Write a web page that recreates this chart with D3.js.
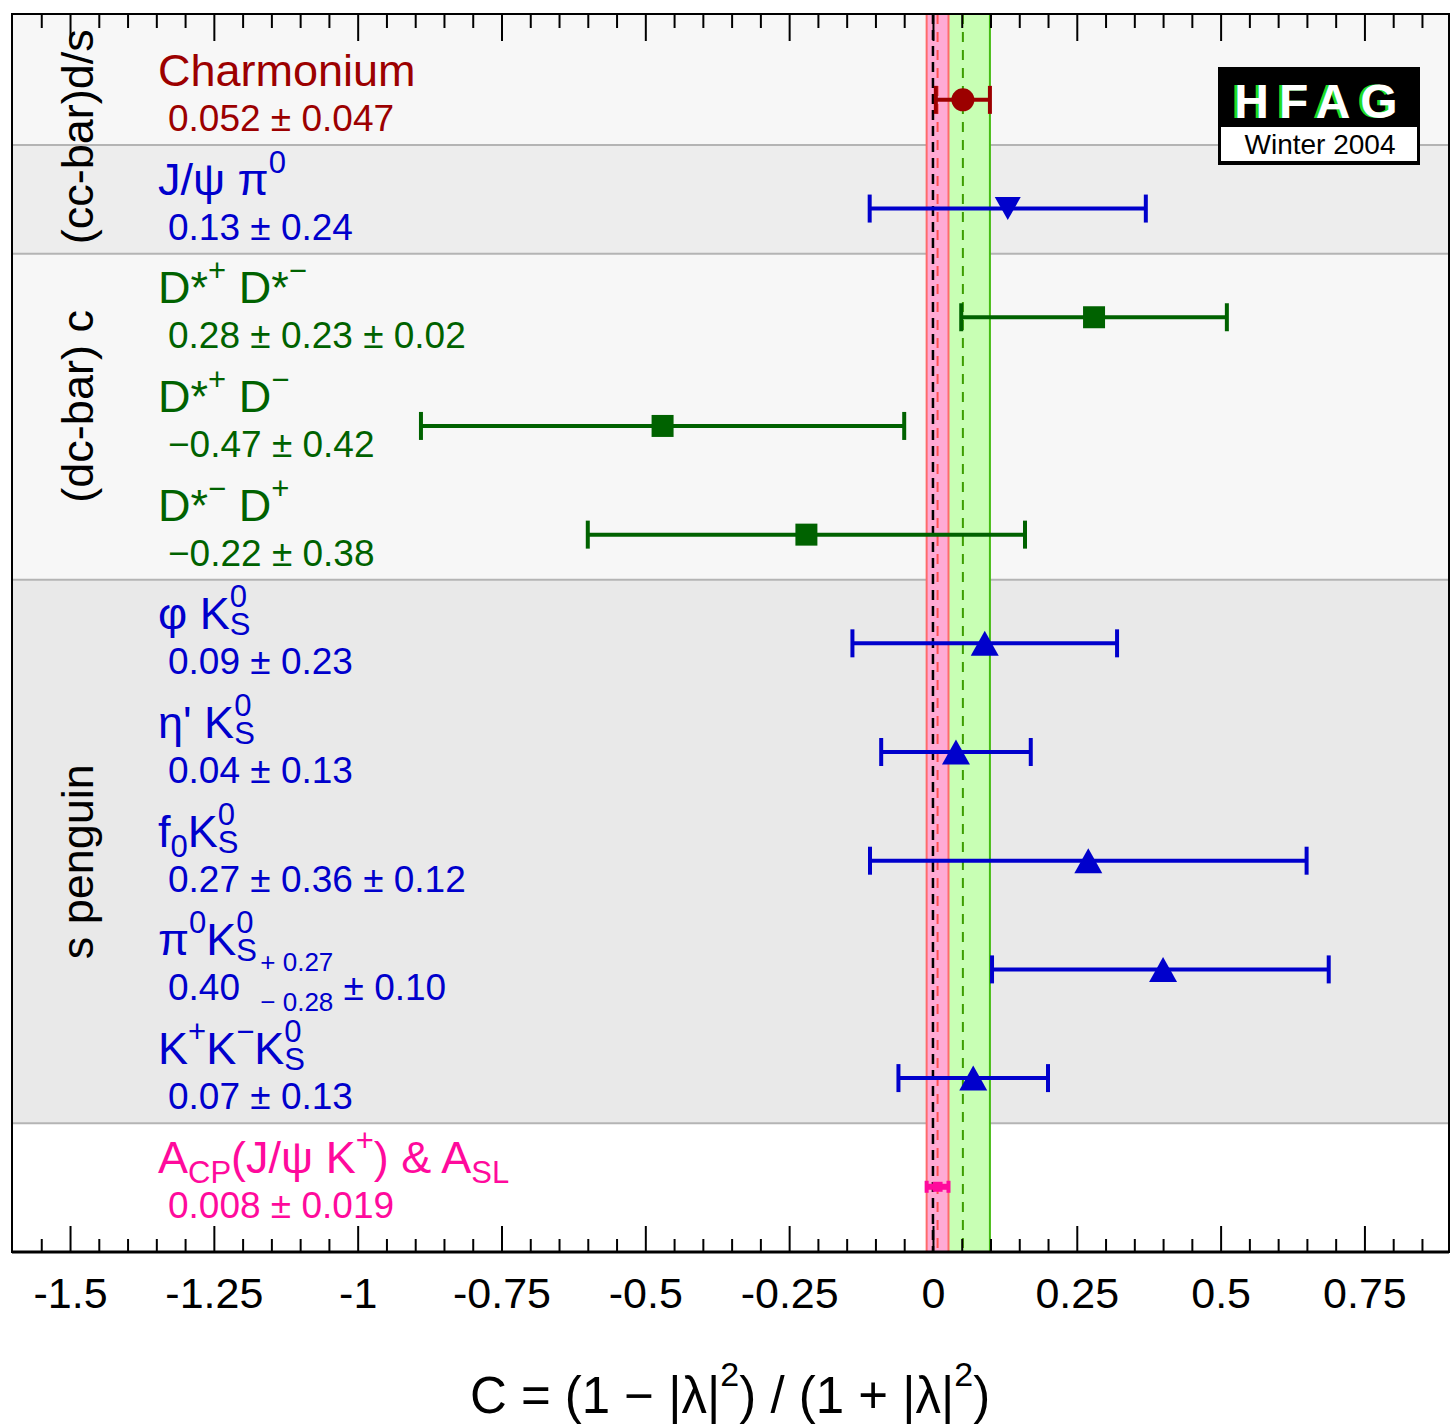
<!DOCTYPE html>
<html>
<head>
<meta charset="utf-8">
<script src="https://cdn.jsdelivr.net/npm/d3@7"></script>
<style>
  html, body { margin: 0; padding: 0; background: #ffffff; }
  svg { display: block; }
  text { font-family: "Liberation Sans", Arial, Helvetica, sans-serif; white-space: pre; }
</style>
</head>
<body>
<svg id="chart" width="1451" height="1425"></svg>
<script>
// ---- measurements of the direct CP parameter C, one row per mode ----
const modeNames = [
  "Charmonium",
  "J/ψ π^{0}",
  "D*^{+} D*^{−}",
  "D*^{+} D^{−}",
  "D*^{−} D^{+}",
  "φ K#{0}{S}",
  "η' K#{0}{S}",
  "f_{0}K#{0}{S}",
  "π^{0}K#{0}{S}",
  "K^{+}K^{−}K#{0}{S}",
  "A_{CP}(J/ψ K^{+}) & A_{SL}"
];
const modeGroup = ["charmonium", "ccd", "dcc", "dcc", "dcc",
                   "penguin", "penguin", "penguin", "penguin", "penguin", "acp"];
const cValue   = [0.052, 0.13, 0.28, -0.47, -0.22, 0.09, 0.04, 0.27, 0.40, 0.07, 0.008];
const errPlus  = [0.047, 0.24, 0.23,  0.42,  0.38, 0.23, 0.13, 0.36, 0.27, 0.13, 0.019];
const errMinus = [0.047, 0.24, 0.23,  0.42,  0.38, 0.23, 0.13, 0.36, 0.28, 0.13, 0.019];
const errSyst  = [0,     0,    0.02,  0,     0,    0,    0,    0.12, 0.10, 0,    0];
const digits   = [3, 2, 2, 2, 2, 2, 2, 2, 2, 2, 3];

// shaded row blocks (first row, last row)
const blockFirst = [0, 1, 2, 5, 10];
const blockLast  = [0, 1, 4, 9, 10];

// rotated category labels on the left
const sectionLabels = ["(cc-bar)d/s", "(dc-bar) c", "s penguin"];

// axis ticks
const majorTicks = [-1.5, -1.25, -1, -0.75, -0.5, -0.25, 0, 0.25, 0.5, 0.75];
const tickLabels = ["-1.5", "-1.25", "-1", "-0.75", "-0.5", "-0.25", "0", "0.25", "0.5", "0.75"];
const minorTicks = d3.range(-31, 18).filter(k => k % 5 !== 0).map(k => k * 0.05);

const axisTitle = "C = (1 − |λ|^{2}) / (1 + |λ|^{2})";
const logoTitle = "HFAG";
const logoSub = "Winter 2004";

// ---- styles ----
const groupColor = {
  charmonium: "#9c0000", ccd: "#0000cc", dcc: "#006200", penguin: "#0000cc", acp: "#ff0a9c"
};
const groupMarker = {
  charmonium: "circle", ccd: "triDown", dcc: "square", penguin: "triUp", acp: "tiny"
};
const blockFill = ["#f7f7f7", "#ededed", "#f7f7f7", "#e9e9e9", "#ffffff"];

// ---- layout ----
const frame = { left: 12, right: 1449, top: 14, bottom: 1252 };
const x = d3.scaleLinear().domain([-1.6, 0.897]).range([12.5, 1449]);
const y = d3.scaleLinear().domain([-0.79, 10.6]).range([frame.top, frame.bottom]);
const sepOffset = 0.585;
const sectionCentre = [0.34, 2.82, 7.01];

const svg = d3.select("#chart");
const fontFam = '"Liberation Sans", Arial, Helvetica, sans-serif';

// total error in quadrature
const totPlus  = errPlus.map((e, i) => Math.hypot(e, errSyst[i]));
const totMinus = errMinus.map((e, i) => Math.hypot(e, errSyst[i]));

// rich text with ^{sup}, _{sub} and #{sup}{sub} stacked scripts
function renderRich(text, str, o) {
  const re = /\^\{([^}]*)\}|_\{([^}]*)\}|#\{([^}]*)\}\{([^}]*)\}|([^^_#]+)/g;
  let m, cur = 0, pendingDx = 0;
  const put = (s, size, shift) => {
    const t = text.append("tspan").attr("font-size", size).attr("dy", shift - cur).text(s);
    if (pendingDx) { t.attr("dx", pendingDx); pendingDx = 0; }
    cur = shift;
    return t;
  };
  while ((m = re.exec(str))) {
    if (m[1] !== undefined) put(m[1], o.small, -o.supRaise);
    else if (m[2] !== undefined) put(m[2], o.small, o.subDrop);
    else if (m[3] !== undefined) {
      pendingDx = o.stackGap || 0;
      const a = put(m[3], o.small, -o.stackRaise);
      const wa = a.node().getComputedTextLength();
      pendingDx = -wa;
      const b = put(m[4], o.small, o.stackDrop);
      const wb = b.node().getComputedTextLength();
      if (wa > wb) pendingDx = wa - wb;
    } else put(m[5], o.size, 0);
  }
}

const fmt = (v, d) => v.toFixed(d).replace("-", "−");
function valueLabel(i) {
  const d = digits[i];
  let s = fmt(cValue[i], d);
  if (errPlus[i] === errMinus[i]) s += " ± " + fmt(errPlus[i], d);
  else s += " #{+ " + fmt(errPlus[i], d) + "}{− " + fmt(errMinus[i], d) + "}";
  if (errSyst[i] > 0) s += " ± " + fmt(errSyst[i], d);
  return s;
}

// ---- background blocks ----
blockFirst.forEach((f, k) => {
  const top = k === 0 ? frame.top : y(f - sepOffset);
  const bot = k === blockFirst.length - 1 ? frame.bottom : y(blockLast[k] + 1 - sepOffset);
  svg.append("rect").attr("x", frame.left).attr("y", top)
    .attr("width", frame.right - frame.left).attr("height", bot - top)
    .attr("fill", blockFill[k]);
});
blockFirst.slice(1).forEach(f => {
  svg.append("line").attr("x1", frame.left).attr("x2", frame.right)
    .attr("y1", y(f - sepOffset)).attr("y2", y(f - sepOffset))
    .attr("stroke", "#b4b4b4").attr("stroke-width", 2);
});

// ---- average bands ----
const iChar = modeGroup.indexOf("charmonium");
const iAcp = modeGroup.indexOf("acp");
function band(i, fill, edge, dash) {
  const x0 = x(cValue[i] - totMinus[i]), x1 = x(cValue[i] + totPlus[i]);
  svg.append("rect").attr("x", x0).attr("y", frame.top).attr("width", x1 - x0)
    .attr("height", frame.bottom - frame.top).attr("fill", fill);
  [x0, x1].forEach(xx => svg.append("line").attr("x1", xx).attr("x2", xx)
    .attr("y1", frame.top).attr("y2", frame.bottom).attr("stroke", edge).attr("stroke-width", 2));
  svg.append("line").attr("x1", x(cValue[i])).attr("x2", x(cValue[i]))
    .attr("y1", frame.top).attr("y2", frame.bottom)
    .attr("stroke", dash).attr("stroke-width", 2).attr("stroke-dasharray", "10,8");
}
band(iChar, "#c8ffb4", "#44bb11", "#3c9e00");
band(iAcp, "#ffaad4", "#ff6a6a", "#ff5050");
svg.append("line").attr("x1", x(0)).attr("x2", x(0))
  .attr("y1", frame.top).attr("y2", frame.bottom)
  .attr("stroke", "#000").attr("stroke-width", 2.5).attr("stroke-dasharray", "10,6");

// ---- error bars and markers ----
function markerPath(kind) {
  const p = d3.path();
  if (kind === "circle") { p.arc(0, 0, 11.5, 0, 2 * Math.PI); }
  else if (kind === "square") { p.rect(-11, -11, 22, 22); }
  else if (kind === "triUp") { p.moveTo(0, -12.5); p.lineTo(14, 12.5); p.lineTo(-14, 12.5); p.closePath(); }
  else if (kind === "triDown") { p.moveTo(0, 11.5); p.lineTo(13, -11.5); p.lineTo(-13, -11.5); p.closePath(); }
  else { p.rect(-5, -5, 10, 10); }
  return p.toString();
}
const rows = svg.append("g").selectAll("g").data(cValue).join("g")
  .attr("transform", (d, i) => `translate(0,${y(i)})`);
rows.each(function (d, i) {
  const g = d3.select(this);
  const col = groupColor[modeGroup[i]];
  const small = modeGroup[i] === "acp";
  const cap = small ? 6 : 14;
  const lo = x(d - totMinus[i]), hi = x(d + totPlus[i]);
  g.append("line").attr("x1", lo).attr("x2", hi).attr("y1", 0).attr("y2", 0)
    .attr("stroke", col).attr("stroke-width", small ? 6 : 4);
  [lo, hi].forEach(xx => g.append("line").attr("x1", xx).attr("x2", xx)
    .attr("y1", -cap).attr("y2", cap).attr("stroke", col).attr("stroke-width", 4));
  g.append("path").attr("d", markerPath(groupMarker[modeGroup[i]]))
    .attr("transform", `translate(${x(d)},0)`).attr("fill", col);
});

// ---- row labels ----
cValue.forEach((d, i) => {
  const col = groupColor[modeGroup[i]];
  const t1 = svg.append("text").attr("x", 158).attr("y", y(i) - 14)
    .attr("fill", col).attr("font-size", 45);
  renderRich(t1, modeNames[i], { size: 45, small: 31, supRaise: 22, subDrop: 10, stackRaise: 22, stackDrop: 6 });
  const t2 = svg.append("text").attr("x", 168).attr("y", y(i) + 31)
    .attr("fill", col).attr("font-size", 37);
  renderRich(t2, valueLabel(i), { size: 37, small: 26, supRaise: 20, subDrop: 8, stackRaise: 29, stackDrop: 11, stackGap: 10 });
});

// ---- rotated section labels ----
sectionLabels.forEach((s, k) => {
  svg.append("text").attr("transform", `translate(93,${y(sectionCentre[k])}) rotate(-90)`)
    .attr("text-anchor", "middle").attr("font-size", 45).attr("fill", "#000").text(s);
});

// ---- axes ----
function styleAxis(g) {
  g.select(".domain").remove();
  g.selectAll(".tick line").attr("stroke", "#000").attr("stroke-width", 2);
  g.selectAll(".tick text").attr("fill", "#000").attr("font-family", fontFam).attr("font-size", 43);
}
svg.append("g").attr("transform", `translate(0,${frame.bottom})`)
  .call(d3.axisBottom(x).tickValues(majorTicks).tickSizeInner(-26).tickSizeOuter(0).tickPadding(25)
    .tickFormat((d, i) => tickLabels[i]))
  .call(styleAxis);
svg.append("g").attr("transform", `translate(0,${frame.bottom})`)
  .call(d3.axisBottom(x).tickValues(minorTicks).tickSizeInner(-13).tickSizeOuter(0).tickFormat(""))
  .call(styleAxis);
svg.append("g").attr("transform", `translate(0,${frame.top})`)
  .call(d3.axisTop(x).tickValues(majorTicks).tickSizeInner(-27).tickSizeOuter(0).tickFormat(""))
  .call(styleAxis);
svg.append("g").attr("transform", `translate(0,${frame.top})`)
  .call(d3.axisTop(x).tickValues(minorTicks).tickSizeInner(-14).tickSizeOuter(0).tickFormat(""))
  .call(styleAxis);

// frame
svg.append("rect").attr("x", frame.left).attr("y", frame.top)
  .attr("width", frame.right - frame.left).attr("height", frame.bottom - frame.top)
  .attr("fill", "none").attr("stroke", "#000").attr("stroke-width", 2);
svg.append("line").attr("x1", frame.left).attr("x2", frame.right)
  .attr("y1", frame.bottom).attr("y2", frame.bottom).attr("stroke", "#000").attr("stroke-width", 3);

// axis title
const title = svg.append("text").attr("x", 730).attr("y", 1413).attr("text-anchor", "middle")
  .attr("font-size", 51).attr("fill", "#000");
renderRich(title, axisTitle, { size: 51, small: 34, supRaise: 27, subDrop: 10, stackRaise: 27, stackDrop: 10 });

// ---- HFAG logo ----
const logo = svg.append("g");
logo.append("rect").attr("x", 1218).attr("y", 67).attr("width", 202).attr("height", 98).attr("fill", "#000");
logo.append("rect").attr("x", 1221).attr("y", 127).attr("width", 196).attr("height", 34).attr("fill", "#fff");
logo.append("text").attr("x", 1318).attr("y", 118).attr("text-anchor", "middle")
  .attr("font-size", 48).attr("font-weight", "bold").attr("letter-spacing", 10)
  .attr("fill", "#22dd22").text(logoTitle);
logo.append("text").attr("x", 1321).attr("y", 118).attr("text-anchor", "middle")
  .attr("font-size", 48).attr("font-weight", "bold").attr("letter-spacing", 10)
  .attr("fill", "#fff").text(logoTitle);
logo.append("text").attr("x", 1320).attr("y", 154).attr("text-anchor", "middle")
  .attr("font-size", 28).attr("fill", "#000").text(logoSub);
</script>
</body>
</html>
